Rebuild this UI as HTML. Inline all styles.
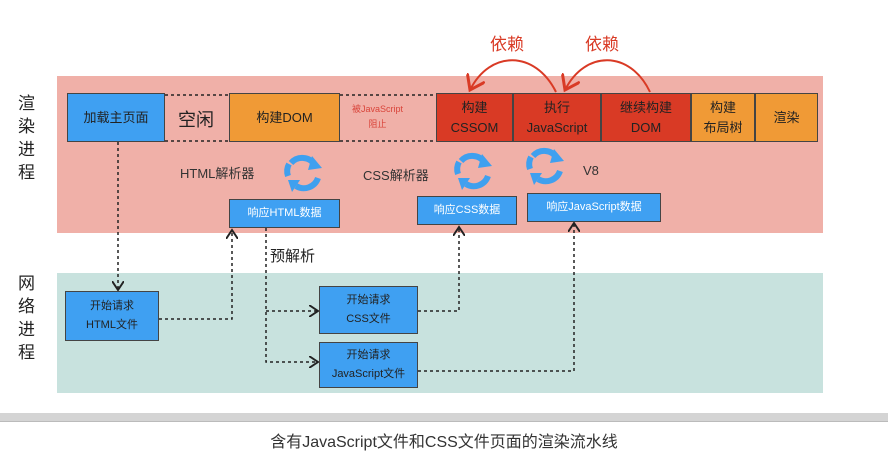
<!DOCTYPE html>
<html><head><meta charset="utf-8"><style>
body{margin:0;width:888px;height:474px;background:#fff;overflow:hidden;position:relative;font-family:"Liberation Sans","Noto Sans CJK SC",sans-serif;}
.a{position:absolute}
.b{position:absolute;box-sizing:border-box;border:1.5px solid #444;display:flex;align-items:center;justify-content:center;text-align:center;font-size:13px;line-height:20px;color:#222}
.bl{background:#3fa0f2;color:#fff;font-size:11px;line-height:19px}
.or{background:#f09a36}
.rd{background:#d93a25}
.t{position:absolute;font-size:14px;color:#333;white-space:nowrap}
</style></head><body>
<div class="a" style="left:57px;top:76px;width:766px;height:157px;background:#f0b0a8"></div>
<div class="a" style="left:57px;top:273px;width:766px;height:120px;background:#c8e2de"></div>
<div class="a" style="left:0;top:413px;width:888px;height:8px;background:#d4d4d4;border-bottom:1px solid #bbb"></div>
<div class="t" style="left:0;top:428px;width:888px;text-align:center;font-size:16px;color:#333">含有JavaScript文件和CSS文件页面的渲染流水线</div>

<div class="t" style="left:18px;top:92px;font-size:17px;line-height:23px;width:20px;white-space:normal;color:#222">渲染进程</div>
<div class="t" style="left:18px;top:272px;font-size:17px;line-height:23px;width:20px;white-space:normal;color:#222">网络进程</div>

<svg class="a" style="left:0;top:0" width="888" height="474">
<defs><marker id="m" markerWidth="8" markerHeight="8" refX="6" refY="4" orient="auto"><path d="M0,0 L6,4 L0,8" fill="none" stroke="#222" stroke-width="1.3"/></marker>
<marker id="r" markerWidth="10" markerHeight="10" refX="7" refY="5" orient="auto"><path d="M0,0 L7,5 L0,10" fill="none" stroke="#d93a25" stroke-width="1.5"/></marker></defs>
<g stroke="#222" stroke-width="1.5" stroke-dasharray="3,3" fill="none">
<line x1="165" y1="95" x2="229" y2="95"/><line x1="165" y1="141" x2="229" y2="141"/>
<line x1="340" y1="95" x2="436" y2="95"/><line x1="340" y1="141" x2="436" y2="141"/>
<path d="M118,142 V290" marker-end="url(#m)"/>
<path d="M159,319 H232 V230" marker-end="url(#m)"/>
<path d="M266,228 V362 H318" marker-end="url(#m)"/>
<path d="M266,311 H318" marker-end="url(#m)"/>
<path d="M418,311 H459 V227" marker-end="url(#m)"/>
<path d="M418,371 H574 V223" marker-end="url(#m)"/>
</g>
<g stroke="#d93a25" stroke-width="2" fill="none">
<path d="M556,92 C535,50 490,50 470,90" marker-end="url(#r)"/>
<path d="M650,92 C630,50 585,50 565,90" marker-end="url(#r)"/>
</g>
<g fill="none" stroke="#3fa0ef" stroke-width="6">
<path d="M291,163 A15,15 0 0 1 315,165"/><path d="M318,178 A15,15 0 0 1 296,186"/><path d="M288,176 A15,15 0 0 1 289,164"/>
<path d="M461,161 A15,15 0 0 1 485,163"/><path d="M488,176 A15,15 0 0 1 466,184"/><path d="M458,174 A15,15 0 0 1 459,162"/>
<path d="M533,156 A15,15 0 0 1 557,158"/><path d="M560,171 A15,15 0 0 1 538,179"/><path d="M530,169 A15,15 0 0 1 531,157"/>
</g>
<g fill="#3fa0ef">
<path d="M312,156 L322,168 L308,170Z"/><path d="M300,180 L292,192 L288,180Z"/>
<path d="M482,154 L492,166 L478,168Z"/><path d="M470,178 L462,190 L458,178Z"/>
<path d="M554,149 L564,161 L550,163Z"/><path d="M542,173 L534,185 L530,173Z"/>
</g>
</svg>

<div class="t" style="left:490px;top:30px;font-size:17px;color:#d93a25">依赖</div>
<div class="t" style="left:585px;top:30px;font-size:17px;color:#d93a25">依赖</div>

<div class="b bl" style="left:67px;top:93px;width:98px;height:49px;font-size:13px;color:#222">加载主页面</div>
<div class="t" style="left:178px;top:106px;font-size:18px;color:#222">空闲</div>
<div class="b or" style="left:229px;top:93px;width:111px;height:49px">构建DOM</div>
<div class="t" style="left:352px;top:102px;font-size:9px;line-height:15px;color:#d9443a;text-align:center">被JavaScript<br>阻止</div>
<div class="b rd" style="left:436px;top:93px;width:77px;height:49px">构建<br>CSSOM</div>
<div class="b rd" style="left:513px;top:93px;width:88px;height:49px">执行<br>JavaScript</div>
<div class="b rd" style="left:601px;top:93px;width:90px;height:49px">继续构建<br>DOM</div>
<div class="b or" style="left:691px;top:93px;width:64px;height:49px">构建<br>布局树</div>
<div class="b or" style="left:755px;top:93px;width:63px;height:49px">渲染</div>

<div class="t" style="left:180px;top:163px;font-size:13px">HTML解析器</div>
<div class="t" style="left:363px;top:165px;font-size:13px">CSS解析器</div>
<div class="t" style="left:583px;top:163px;font-size:13px">V8</div>
<div class="t" style="left:270px;top:245px;font-size:15px;color:#222">预解析</div>

<div class="b bl" style="left:229px;top:199px;width:111px;height:29px">响应HTML数据</div>
<div class="b bl" style="left:417px;top:196px;width:100px;height:29px">响应CSS数据</div>
<div class="b bl" style="left:527px;top:193px;width:134px;height:29px">响应JavaScript数据</div>

<div class="b bl" style="left:65px;top:291px;width:94px;height:50px;color:#222">开始请求<br>HTML文件</div>
<div class="b bl" style="left:319px;top:286px;width:99px;height:48px;color:#222">开始请求<br>CSS文件</div>
<div class="b bl" style="left:319px;top:342px;width:99px;height:46px;color:#222">开始请求<br>JavaScript文件</div>
</body></html>
